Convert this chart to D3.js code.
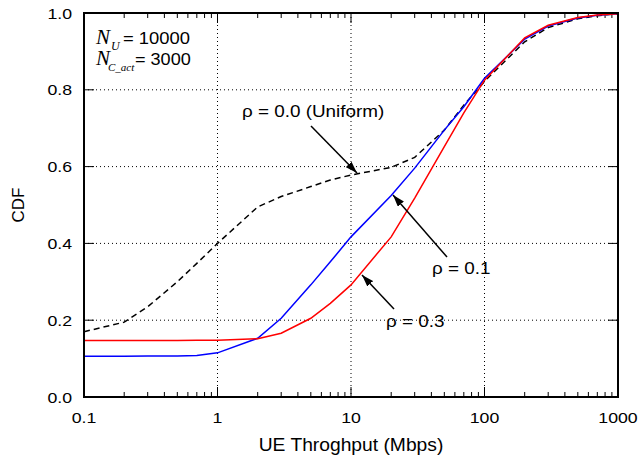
<!DOCTYPE html>
<html>
<head>
<meta charset="utf-8">
<script src="https://cdn.jsdelivr.net/npm/d3@7"></script>
<style>
  body { margin: 0; background: #fff; }
</style>
</head>
<body>
<svg width="643" height="461" font-family="Liberation Sans, Arial, Helvetica, sans-serif"></svg>
<script>
// throughput sample points (Mbps)
var xPoints = [0.1, 0.2, 0.3, 0.5, 0.7, 1, 2, 3, 5, 7, 10, 20, 30, 50, 70, 100, 200, 300, 500, 700, 1000];

// CDF values
var uniform = [0.17, 0.195, 0.235, 0.30, 0.348, 0.40, 0.495, 0.522, 0.548, 0.565, 0.578, 0.598, 0.624, 0.695, 0.76, 0.822, 0.925, 0.962, 0.985, 0.993, 0.998];
var rho01 = [0.106, 0.106, 0.107, 0.107, 0.108, 0.115, 0.153, 0.205, 0.292, 0.352, 0.417, 0.525, 0.596, 0.695, 0.756, 0.83, 0.932, 0.966, 0.987, 0.994, 0.998];
var rho03 = [0.147, 0.147, 0.147, 0.147, 0.148, 0.148, 0.152, 0.166, 0.205, 0.244, 0.292, 0.417, 0.518, 0.652, 0.74, 0.825, 0.935, 0.968, 0.988, 0.995, 0.998];

var xTicks = [0.1, 1, 10, 100, 1000];
var yTicks = [0, 0.2, 0.4, 0.6, 0.8, 1.0];

var svg = d3.select("svg");
var pLeft = 84, pRight = 618, pTop = 13, pBottom = 397;

var x = d3.scaleLog().domain([0.1, 1000]).range([pLeft, pRight]);
var y = d3.scaleLinear().domain([0, 1]).range([pBottom, pTop]);

// text helper, the original lettering is a bit wide so stretch it horizontally
function label(px, py, size, sx, anchor, str) {
  return svg.append("text")
    .attr("transform", "translate(" + px + "," + py + ") scale(" + sx + ",1)")
    .attr("font-size", size + "px")
    .attr("text-anchor", anchor)
    .text(str);
}

svg.append("defs").append("marker")
  .attr("id", "arrow")
  .attr("viewBox", "0 0 12 8")
  .attr("refX", 12)
  .attr("refY", 4)
  .attr("markerWidth", 12)
  .attr("markerHeight", 8)
  .attr("markerUnits", "userSpaceOnUse")
  .attr("orient", "auto")
  .append("path")
  .attr("d", "M0,0 L12,4 L0,8 Z")
  .attr("fill", "#000");

// dotted grid
var grid = svg.append("g").attr("stroke", "#000").attr("stroke-width", 1).attr("stroke-dasharray", "1,3");
[1, 10, 100].forEach(function (v) {
  grid.append("line").attr("x1", x(v)).attr("x2", x(v)).attr("y1", pTop).attr("y2", pBottom);
});
[0.2, 0.4, 0.6, 0.8].forEach(function (v) {
  grid.append("line").attr("x1", pLeft).attr("x2", pRight).attr("y1", y(v)).attr("y2", y(v));
});

// ticks (inward, on all four sides)
var minor = [];
[0.1, 1, 10, 100].forEach(function (p) {
  for (var k = 2; k <= 9; k++) minor.push(p * k);
});
var ticks = svg.append("g").attr("stroke", "#000").attr("stroke-width", 1);
xTicks.forEach(function (v) {
  ticks.append("line").attr("x1", x(v)).attr("x2", x(v)).attr("y1", pBottom).attr("y2", pBottom - 10);
  ticks.append("line").attr("x1", x(v)).attr("x2", x(v)).attr("y1", pTop).attr("y2", pTop + 10);
});
minor.forEach(function (v) {
  ticks.append("line").attr("x1", x(v)).attr("x2", x(v)).attr("y1", pBottom).attr("y2", pBottom - 5);
  ticks.append("line").attr("x1", x(v)).attr("x2", x(v)).attr("y1", pTop).attr("y2", pTop + 5);
});
yTicks.forEach(function (v) {
  ticks.append("line").attr("x1", pLeft).attr("x2", pLeft + 10).attr("y1", y(v)).attr("y2", y(v));
  ticks.append("line").attr("x1", pRight).attr("x2", pRight - 10).attr("y1", y(v)).attr("y2", y(v));
});

// tick labels
xTicks.forEach(function (d) {
  label(x(d), 423, 15, 1.18, "middle", String(d));
});
yTicks.forEach(function (d) {
  label(72, y(d) + 5.5, 15, 1.18, "end", d.toFixed(1));
});

// axis titles
label((pLeft + pRight) / 2, 451, 18, 1.07, "middle", "UE Throghput (Mbps)");

svg.append("text")
  .attr("transform", "translate(24," + ((pTop + pBottom) / 2) + ") rotate(-90)")
  .attr("text-anchor", "middle")
  .attr("font-size", "17px")
  .text("CDF");

// curves
var line = d3.line()
  .x(function (d) { return x(d[0]); })
  .y(function (d) { return y(d[1]); });

function pairs(vals) {
  return xPoints.map(function (v, i) { return [v, vals[i]]; });
}

svg.append("path").datum(pairs(uniform))
  .attr("d", line).attr("fill", "none")
  .attr("stroke", "#000").attr("stroke-width", 1.5).attr("stroke-dasharray", "6,4");
svg.append("path").datum(pairs(rho01))
  .attr("d", line).attr("fill", "none")
  .attr("stroke", "#0000ff").attr("stroke-width", 1.5);
svg.append("path").datum(pairs(rho03))
  .attr("d", line).attr("fill", "none")
  .attr("stroke", "#ff0000").attr("stroke-width", 1.5);

// frame
svg.append("rect")
  .attr("x", pLeft).attr("y", pTop)
  .attr("width", pRight - pLeft).attr("height", pBottom - pTop)
  .attr("fill", "none").attr("stroke", "#000").attr("stroke-width", 2);

// parameter labels
var serif = "Liberation Serif, Times New Roman, serif";
function italic(px, py, size, str) {
  svg.append("text").attr("x", px).attr("y", py)
    .attr("font-family", serif).attr("font-style", "italic")
    .attr("font-size", size + "px").text(str);
}
italic(96, 44, 21, "N");
italic(111, 50, 12, "U");
label(123, 44, 16, 1.15, "start", "= 10000");
italic(96, 65, 21, "N");
italic(108, 71, 11, "C_act");
label(135, 65, 16, 1.13, "start", "= 3000");

// annotations with arrows
function note(str, tx, ty, x1, y1, x2, y2) {
  label(tx, ty, 16, 1.18, "start", str);
  svg.append("line")
    .attr("x1", x1).attr("y1", y1).attr("x2", x2).attr("y2", y2)
    .attr("stroke", "#000").attr("stroke-width", 1.5)
    .attr("marker-end", "url(#arrow)");
}
note("\u03c1 = 0.0 (Uniform)", 242, 117, 311, 126, 357, 173);
note("\u03c1 = 0.1", 432, 274, 447, 257, 393, 195);
note("\u03c1 = 0.3", 386, 327, 394, 309, 362, 275);
</script>
</body>
</html>
